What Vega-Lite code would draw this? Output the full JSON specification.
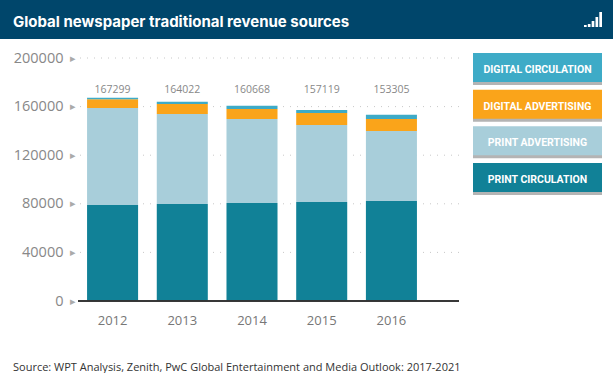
{
"$schema":"https://vega.github.io/schema/vega-lite/v6.json",
"padding":0,
"background":"white",
"config":{"view":{"stroke":null},"concat":{"spacing":0},"font":"Open Sans"},
"datasets":{
"rev":[
{"year":"2012","series":"Print Circulation","rank":1,"value":79000},
{"year":"2012","series":"Print Advertising","rank":2,"value":79800},
{"year":"2012","series":"Digital Advertising","rank":3,"value":7200},
{"year":"2012","series":"Digital Circulation","rank":4,"value":1299},
{"year":"2013","series":"Print Circulation","rank":1,"value":79900},
{"year":"2013","series":"Print Advertising","rank":2,"value":74000},
{"year":"2013","series":"Digital Advertising","rank":3,"value":8200},
{"year":"2013","series":"Digital Circulation","rank":4,"value":1922},
{"year":"2014","series":"Print Circulation","rank":1,"value":80700},
{"year":"2014","series":"Print Advertising","rank":2,"value":69100},
{"year":"2014","series":"Digital Advertising","rank":3,"value":8200},
{"year":"2014","series":"Digital Circulation","rank":4,"value":2668},
{"year":"2015","series":"Print Circulation","rank":1,"value":81500},
{"year":"2015","series":"Print Advertising","rank":2,"value":63400},
{"year":"2015","series":"Digital Advertising","rank":3,"value":9800},
{"year":"2015","series":"Digital Circulation","rank":4,"value":2419},
{"year":"2016","series":"Print Circulation","rank":1,"value":82300},
{"year":"2016","series":"Print Advertising","rank":2,"value":57600},
{"year":"2016","series":"Digital Advertising","rank":3,"value":9900},
{"year":"2016","series":"Digital Circulation","rank":4,"value":3505}],
"tot":[{"year":"2012","total":167299},{"year":"2013","total":164022},{"year":"2014","total":160668},{"year":"2015","total":157119},{"year":"2016","total":153305}],
"grid":[{"tick":40000},{"tick":80000},{"tick":120000},{"tick":160000},{"tick":200000}],
"leg":[{"name":"DIGITAL CIRCULATION","series":"Digital Circulation"},{"name":"DIGITAL ADVERTISING","series":"Digital Advertising"},{"name":"PRINT ADVERTISING","series":"Print Advertising"},{"name":"PRINT CIRCULATION","series":"Print Circulation"}],
"sig":[{"level":1,"top":14},{"level":2,"top":15},{"level":3,"top":18},{"level":4,"top":22},{"level":5,"top":27}]
},
"spacing":11,
"vconcat":[
{"width":613,"height":39,
 "view":{"fill":"#00466b"},
 "title":{"text":"Global newspaper traditional revenue sources","orient":"top","anchor":"start","frame":"group","offset":-30,"dx":13,"font":"Inter","fontSize":15,"fontWeight":"bold","color":"white"},
 "data":{"name":"sig"},
 "mark":{"type":"bar","color":"white"},
 "encoding":{
  "x":{"field":"level","type":"ordinal","axis":null,"scale":{"range":[584,602],"paddingInner":0.3,"paddingOuter":0}},
  "y":{"field":"top","type":"quantitative","axis":null,"scale":{"domain":[0,39],"range":[39,0]}},
  "y2":{"datum":12}
 }},
{"spacing":12,
 "hconcat":[
 {"width":1,"height":10,"data":{"values":[]},"mark":"point","encoding":{}},
 {"width":381,"height":248,
  "title":{"text":"Source: WPT Analysis, Zenith, PwC Global Entertainment and Media Outlook: 2017-2021","orient":"bottom","anchor":"start","frame":"group","offset":35,"dx":-65,"fontSize":11,"fontWeight":"normal","color":"#333333"},
  "resolve":{"axis":{"y":"independent"}},
  "layer":[
  {"data":{"name":"grid"},"mark":{"type":"rule","color":"#c8c8c8","strokeDash":[1,6],"strokeWidth":1},
   "encoding":{"y":{"field":"tick","type":"quantitative","axis":null,"scale":{"domain":[0,200000],"range":[248,5],"nice":false}}}},
  {"data":{"name":"rev"},"mark":{"type":"bar"},
   "encoding":{
    "x":{"field":"year","type":"nominal","title":null,"scale":{"range":[0,348],"paddingInner":0.268,"paddingOuter":0.13},"axis":{"domain":false,"ticks":false,"labelAngle":0,"labelFontSize":13,"labelColor":"#777777","labelPadding":13}},
    "y":{"field":"value","type":"quantitative","stack":"zero","title":null,"axis":{"values":[0,40000,80000,120000,160000,200000],"format":"d","domain":false,"ticks":false,"labelFontSize":14.5,"labelColor":"#888888","labelPadding":15,"minExtent":65,"maxExtent":65,"grid":false}},
    "color":{"field":"series","type":"nominal","legend":null,"scale":{"domain":["Digital Circulation","Digital Advertising","Print Advertising","Print Circulation"],"range":["#3eabc7","#faa41a","#a8ceda","#118197"]}},
    "order":{"field":"rank"}
   }},
  {"data":{"name":"tot"},"mark":{"type":"text","fontSize":10.5,"color":"#888888"},
   "encoding":{
    "x":{"field":"year","type":"nominal"},
    "y":{"datum":173700,"type":"quantitative","axis":{"orient":"left","values":[0,40000,80000,120000,160000,200000],"labelExpr":"'▸'","domain":false,"ticks":false,"labelFontSize":11,"labelColor":"#aaaaaa","labelPadding":3,"title":null,"grid":false}},
    "text":{"field":"total","type":"nominal"}
   }},
  {"data":{"name":"tot"},"mark":{"type":"rule","color":"#333333","strokeWidth":1},
   "encoding":{"y":{"datum":0,"type":"quantitative","axis":null}}}
  ]},
 {"width":129,"height":139,
  "layer":[
  {"data":{"name":"leg"},"mark":{"type":"bar","color":"#777777","opacity":0.55,"yOffset":3},
   "encoding":{"y":{"field":"series","type":"nominal","axis":null,"sort":null,"scale":{"paddingInner":0.21,"paddingOuter":0}}}},
  {"data":{"name":"leg"},"mark":{"type":"bar"},
   "encoding":{"y":{"field":"series","type":"nominal","axis":null,"sort":null},
    "color":{"field":"series","type":"nominal","legend":null,"scale":{"domain":["Digital Circulation","Digital Advertising","Print Advertising","Print Circulation"],"range":["#3eabc7","#faa41a","#a8ceda","#118197"]}}}},
  {"data":{"name":"leg"},"mark":{"type":"text","font":"Roboto","fontWeight":"bold","fontSize":10.5,"color":"white","baseline":"middle","dy":2.5},
   "encoding":{"y":{"field":"series","type":"nominal","axis":null,"sort":null},"text":{"field":"name","type":"nominal"}}}
  ]}
 ]}
]
}
